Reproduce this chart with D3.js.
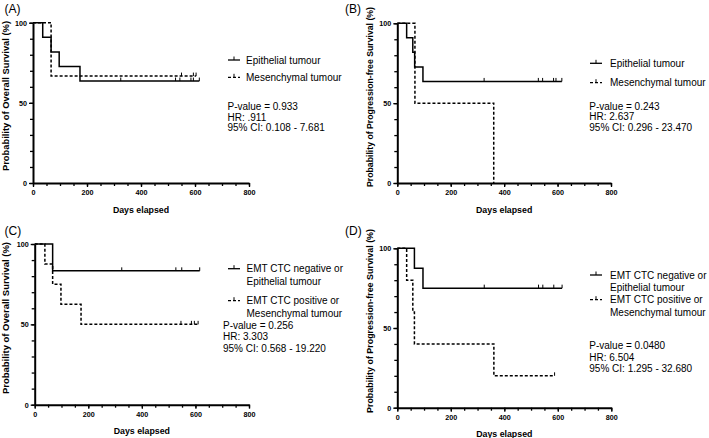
<!DOCTYPE html>
<html><head><meta charset="utf-8">
<script src="https://cdn.jsdelivr.net/npm/d3@7"></script>
<style>body{margin:0;background:#fff}svg{display:block}text{font-family:"Liberation Sans",Arial,sans-serif;fill:#000}</style>
</head><body>
<script>
// ---- data ----
const panelLetters = ["(A)", "(B)", "(C)", "(D)"];
const yLabels = ["Probability of Overall Survival (%)", "Probability of Progression-free Survival (%)",
                 "Probability of Overall Survival (%)", "Probability of Progression-free Survival (%)"];
const xLabel = "Days elapsed";
const xTicks = [0, 200, 400, 600, 800];
const yTicks = [0, 50, 100];

// Panel A (overall survival)
const A_epiTimes = [0, 36, 67, 97, 174];
const A_epiSurv  = [100, 90.9, 81.8, 72.7, 63.6];
const A_epiEnd = 616;
const A_epiCensor = [325, 528, 544, 585, 594, 616];
const A_mesTimes = [0, 67];
const A_mesSurv  = [100, 66.7];
const A_mesEnd = 604;
const A_mesCensor = [550, 594, 604];

// Panel B (progression-free)
const B_epiTimes = [0, 35, 58, 65, 96];
const B_epiSurv  = [100, 90.9, 81.8, 72.7, 63.6];
const B_epiEnd = 616;
const B_epiCensor = [325, 528, 544, 585, 594, 616];
const B_mesTimes = [0, 66, 361];
const B_mesSurv  = [100, 50, 0];
const B_mesEnd = 361;
const B_mesCensor = [];

// Panel C (overall survival)
const C_epiTimes = [0, 67];
const C_epiSurv  = [100, 83.3];
const C_epiEnd = 616;
const C_epiCensor = [325, 527, 549, 616];
const C_mesTimes = [0, 38, 67, 98, 173];
const C_mesSurv  = [100, 87.5, 75, 62.5, 50];
const C_mesEnd = 610;
const C_mesCensor = [546, 585, 596, 610];

// Panel D (progression-free)
const D_epiTimes = [0, 64, 96];
const D_epiSurv  = [100, 87.5, 75];
const D_epiEnd = 616;
const D_epiCensor = [325, 528, 544, 585, 616];
const D_mesTimes = [0, 35, 58, 64, 361];
const D_mesSurv  = [100, 80, 60, 40, 20];
const D_mesEnd = 588;
const D_mesCensor = [588];

const legendAB = [["Epithelial tumour"], ["Mesenchymal tumour"]];
const legendCD = [["EMT CTC negative or", "Epithelial tumour"], ["EMT CTC positive or", "Mesenchymal tumour"]];
const statsA = ["P-value = 0.933", "HR: .911", "95% CI: 0.108 - 7.681"];
const statsB = ["P-value = 0.243", "HR: 2.637", "95% CI: 0.296 - 23.470"];
const statsC = ["P-value = 0.256", "HR: 3.303", "95% CI: 0.568 - 19.220"];
const statsD = ["P-value = 0.0480", "HR: 6.504", "95% CI: 1.295 - 32.680"];

// ---- layout ----
const W = 709, H = 438;
const svg = d3.select("body").append("svg").attr("width", W).attr("height", H);

const panels = [
  {letter: panelLetters[0], lx: 4.5, ly: 12.5, x0: 33, x1: 249, yT: 22.7, yB: 183, ylx: 5.5, ylab: yLabels[0], ylen: 150, ymid: 96,
   series: [{t: A_epiTimes, s: A_epiSurv, end: A_epiEnd, c: A_epiCensor, dash: null},
            {t: A_mesTimes, s: A_mesSurv, end: A_mesEnd, c: A_mesCensor, dash: "3,2"}],
   legend: legendAB, legY: [60, 77.3], stats: statsA, statY: [106.7, 117, 127.7], sx: 228, tx: 246, stx: 227.5},
  {letter: panelLetters[1], lx: 345, ly: 12.5, x0: 397.3, x1: 611, yT: 23.3, yB: 183, ylx: 369.5, ylab: yLabels[1], ylen: 180, ymid: 97,
   series: [{t: B_epiTimes, s: B_epiSurv, end: B_epiEnd, c: B_epiCensor, dash: null},
            {t: B_mesTimes, s: B_mesSurv, end: B_mesEnd, c: B_mesCensor, dash: "3,2"}],
   legend: legendAB, legY: [63.3, 82.7], stats: statsB, statY: [106.7, 116.7, 127.7], sx: 590, tx: 610, stx: 589.3},
  {letter: panelLetters[2], lx: 4.5, ly: 235, x0: 34.7, x1: 249, yT: 244, yB: 404.7, ylx: 5.5, ylab: yLabels[2], ylen: 152, ymid: 318,
   series: [{t: C_epiTimes, s: C_epiSurv, end: C_epiEnd, c: C_epiCensor, dash: null},
            {t: C_mesTimes, s: C_mesSurv, end: C_mesEnd, c: C_mesCensor, dash: "3,2"}],
   legend: legendCD, legY: [268.7, 300.7], stats: statsC, statY: [325.7, 336.7, 348.3], sx: 228, tx: 246.5, stx: 223},
  {letter: panelLetters[3], lx: 345, ly: 235, x0: 397.3, x1: 611.3, yT: 248.3, yB: 407.7, ylx: 369.5, ylab: yLabels[3], ylen: 184, ymid: 321,
   series: [{t: D_epiTimes, s: D_epiSurv, end: D_epiEnd, c: D_epiCensor, dash: null},
            {t: D_mesTimes, s: D_mesSurv, end: D_mesEnd, c: D_mesCensor, dash: "3,2"}],
   legend: legendCD, legY: [275, 299.7], stats: statsD, statY: [345.7, 357.2, 368.7], sx: 590, tx: 610, stx: 589.3}
];

function survAt(tArr, sArr, t) {
  let v = sArr[0];
  for (let i = 0; i < tArr.length; i++) if (tArr[i] <= t) v = sArr[i];
  return v;
}

panels.forEach(p => {
  const g = svg.append("g");
  const x = d3.scaleLinear().domain([0, 800]).range([p.x0, p.x1]);
  const y = d3.scaleLinear().domain([0, 100]).range([p.yB, p.yT]);

  g.append("text").attr("x", p.lx).attr("y", p.ly).attr("font-size", 12).text(p.letter);

  // curves
  p.series.forEach(s => {
    const pts = s.t.map((t, i) => [t, s.s[i]]);
    pts.push([s.end, s.s[s.s.length - 1]]);
    const line = d3.line().x(d => x(d[0])).y(d => y(d[1])).curve(d3.curveStepAfter);
    g.append("path").attr("d", line(pts)).attr("fill", "none").attr("stroke", "#000")
      .attr("stroke-width", 1.5).attr("stroke-dasharray", s.dash);
    s.c.forEach(ct => {
      const v = survAt(s.t, s.s, ct);
      g.append("line").attr("x1", x(ct)).attr("x2", x(ct)).attr("y1", y(v)).attr("y2", y(v) - 3.5)
        .attr("stroke", "#000").attr("stroke-width", 1);
    });
  });

  // axes
  const yMinor = g.append("g").attr("transform", `translate(${p.x0},0)`)
    .call(d3.axisLeft(y).tickValues(d3.range(0, 101, 10)).tickFormat("").tickSize(3).tickSizeOuter(0));
  yMinor.select(".domain").remove();
  const yMajor = g.append("g").attr("transform", `translate(${p.x0},0)`)
    .call(d3.axisLeft(y).tickValues(yTicks).tickSize(4).tickSizeOuter(0).tickPadding(2));
  const xMinor = g.append("g").attr("transform", `translate(0,${p.yB})`)
    .call(d3.axisBottom(x).tickValues(d3.range(0, 801, 50)).tickFormat("").tickSize(3).tickSizeOuter(0));
  xMinor.select(".domain").remove();
  const xMajor = g.append("g").attr("transform", `translate(0,${p.yB})`)
    .call(d3.axisBottom(x).tickValues(xTicks).tickSize(4).tickSizeOuter(0).tickPadding(3));
  [yMinor, yMajor, xMinor, xMajor].forEach(a => {
    a.selectAll(".tick line").attr("stroke", "#000").attr("stroke-width", 1.3);
    a.selectAll(".domain").attr("stroke", "#000").attr("stroke-width", 2);
    a.selectAll("text").attr("font-size", 7.2).attr("font-weight", "bold")
      .attr("font-family", "'Liberation Sans',Arial,sans-serif").attr("fill", "#000");
  });

  // axis titles
  g.append("text").attr("x", (p.x0 + p.x1) / 2).attr("y", p.yB + 29.5).attr("text-anchor", "middle")
    .attr("font-size", 8.8).attr("font-weight", "bold").text(xLabel);
  g.append("text").attr("transform", `translate(${p.ylx + 3},${p.ymid}) rotate(-90)`)
    .attr("text-anchor", "middle").attr("font-size", 8.3).attr("font-weight", "bold")
    .attr("textLength", p.ylen).attr("lengthAdjust", "spacingAndGlyphs").text(p.ylab);

  // legend
  p.legend.forEach((lines, i) => {
    const ly = p.legY[i];
    g.append("line").attr("x1", p.sx).attr("x2", p.sx + 12).attr("y1", ly).attr("y2", ly)
      .attr("stroke", "#000").attr("stroke-width", 1.3).attr("stroke-dasharray", p.series[i].dash);
    g.append("line").attr("x1", p.sx + 6).attr("x2", p.sx + 6).attr("y1", ly).attr("y2", ly - 3.5)
      .attr("stroke", "#000").attr("stroke-width", 1);
    lines.forEach((t, j) => {
      g.append("text").attr("x", p.tx).attr("y", ly + 3.6 + j * 12.8).attr("font-size", 10).text(t);
    });
  });
  p.stats.forEach((t, i) => {
    g.append("text").attr("x", p.stx).attr("y", p.statY[i] + 3.6).attr("font-size", 10).text(t);
  });
});
</script>
</body></html>
